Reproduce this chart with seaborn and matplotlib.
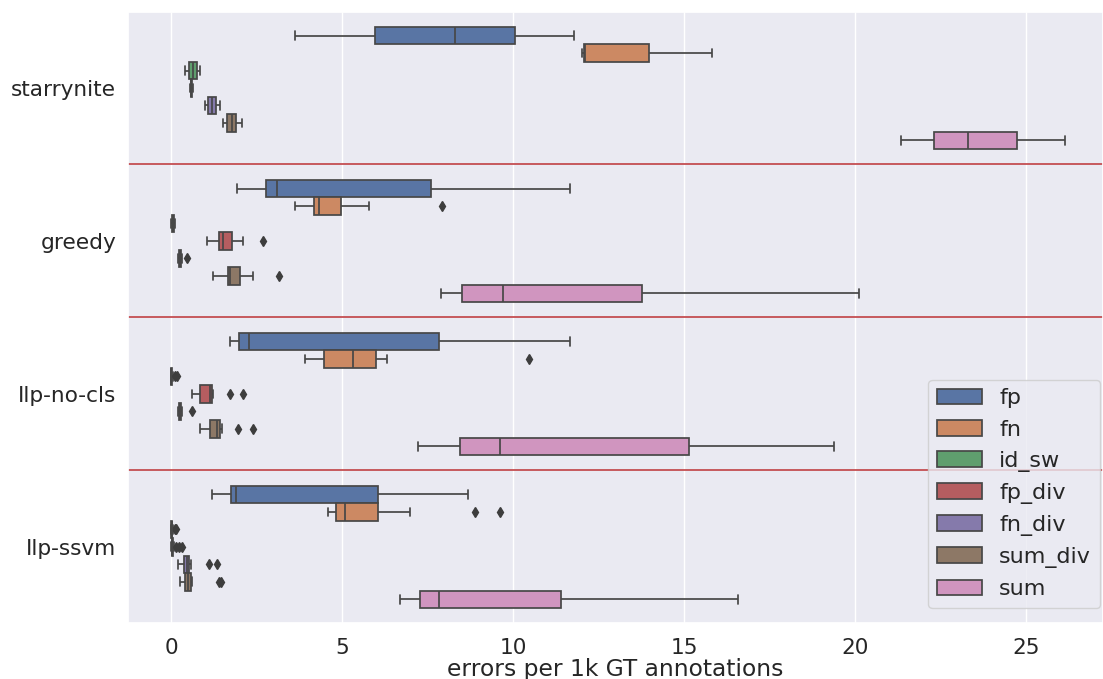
import numpy as np
import pandas as pd
import seaborn as sns
import matplotlib
matplotlib.use('Agg')
import matplotlib.pyplot as plt

methods = ['starrynite', 'greedy', 'Ilp-no-cls', 'Ilp-ssvm']
metrics = ['fp', 'fn', 'id_sw', 'fp_div', 'fn_div', 'sum_div', 'sum']

# (whisker low, q1, median, q3, whisker high) per metric
starrynite = [(3.63, 5.96, 8.31, 10.06, 11.78),
              (12.02, 12.07, 12.10, 13.96, 15.80),
              (0.40, 0.52, 0.62, 0.75, 0.85),
              (0.55, 0.57, 0.58, 0.60, 0.62),
              (0.98, 1.07, 1.18, 1.31, 1.42),
              (1.51, 1.62, 1.76, 1.90, 2.07),
              (21.33, 22.31, 23.30, 24.72, 26.15)]
starrynite_out = [[], [], [], [], [], [], []]

greedy = [(1.91, 2.77, 3.09, 7.59, 11.65),
          (3.63, 4.18, 4.31, 4.95, 5.77),
          (0.0, 0.03, 0.05, 0.07, 0.12),
          (1.04, 1.40, 1.51, 1.77, 2.10),
          (0.19, 0.23, 0.25, 0.27, 0.31),
          (1.23, 1.67, 1.71, 2.02, 2.40),
          (7.88, 8.51, 9.69, 13.77, 20.10)]
greedy_out = [[], [7.92], [], [2.67], [0.47], [3.15], []]

ilp_no_cls = [(1.71, 1.99, 2.28, 7.82, 11.65),
              (3.92, 4.47, 5.30, 5.99, 6.32),
              (0.0, 0.0, 0.0, 0.02, 0.04),
              (0.60, 0.85, 1.12, 1.18, 1.22),
              (0.18, 0.22, 0.25, 0.28, 0.32),
              (0.83, 1.12, 1.33, 1.43, 1.48),
              (7.22, 8.43, 9.60, 15.14, 19.39)]
ilp_no_cls_out = [[], [10.45], [0.10, 0.16], [1.71, 2.10], [0.60], [1.94, 2.39], []]

ilp_ssvm = [(1.19, 1.75, 1.90, 6.03, 8.68),
            (4.57, 4.81, 5.07, 6.05, 6.97),
            (0.0, 0.0, 0.01, 0.03, 0.06),
            (0.0, 0.01, 0.02, 0.04, 0.08),
            (0.19, 0.36, 0.45, 0.52, 0.56),
            (0.25, 0.41, 0.49, 0.56, 0.60),
            (6.69, 7.27, 7.84, 11.41, 16.56)]
ilp_ssvm_out = [[], [8.88, 9.62], [0.10, 0.15], [0.14, 0.22, 0.30], [1.11, 1.33], [1.40, 1.44], []]

#BUILD A LONG TABLE OF OBSERVATIONS THAT REPRODUCES EACH BOX
rows = []
all_stats = [starrynite, greedy, ilp_no_cls, ilp_ssvm]
all_outs = [starrynite_out, greedy_out, ilp_no_cls_out, ilp_ssvm_out]
for name, stats, outs in zip(methods, all_stats, all_outs):
    for metric, (lo, q1, med, q3, hi), extra in zip(metrics, stats, outs):
        vals = [lo] + [q1] * 10 + [med] * 10 + [q3] * 10 + [hi] + list(extra)
        for v in vals:
            rows.append((name, metric, v))
df = pd.DataFrame(rows, columns=['method', 'metric', 'errors'])

sns.set_theme(style='darkgrid', font_scale=1.35)
fig, ax = plt.subplots(figsize=(11.03, 6.79), dpi=100)
fig.subplots_adjust(left=0.116, right=1.0, top=0.983, bottom=0.082)

sns.boxplot(data=df, x='errors', y='method', hue='metric',
            order=methods, hue_order=metrics, orient='h', ax=ax,
            linewidth=1.25, linecolor='#474747',
            flierprops=dict(marker='d', markerfacecolor='#3d3d3d',
                            markeredgecolor='#3d3d3d', markersize=5))

#RED SEPARATORS BETWEEN METHODS
for yb in [0.5, 1.5, 2.5]:
    ax.axhline(yb, color=sns.color_palette()[3], lw=1.3)

ax.set_xlim(-1.27, 27.25)
ax.tick_params(axis='both', labelsize=15.6)
ax.tick_params(axis='x', pad=4.5)
ax.tick_params(axis='y', pad=2.5)
ax.set_xlabel('errors per 1k GT annotations', fontsize=16.8, labelpad=0)
ax.set_ylabel('')
sns.move_legend(ax, 'lower right', bbox_to_anchor=(0.997, 0.025),
                borderaxespad=0, fontsize=16, title=None)

fig.savefig('out.png', dpi=100)
